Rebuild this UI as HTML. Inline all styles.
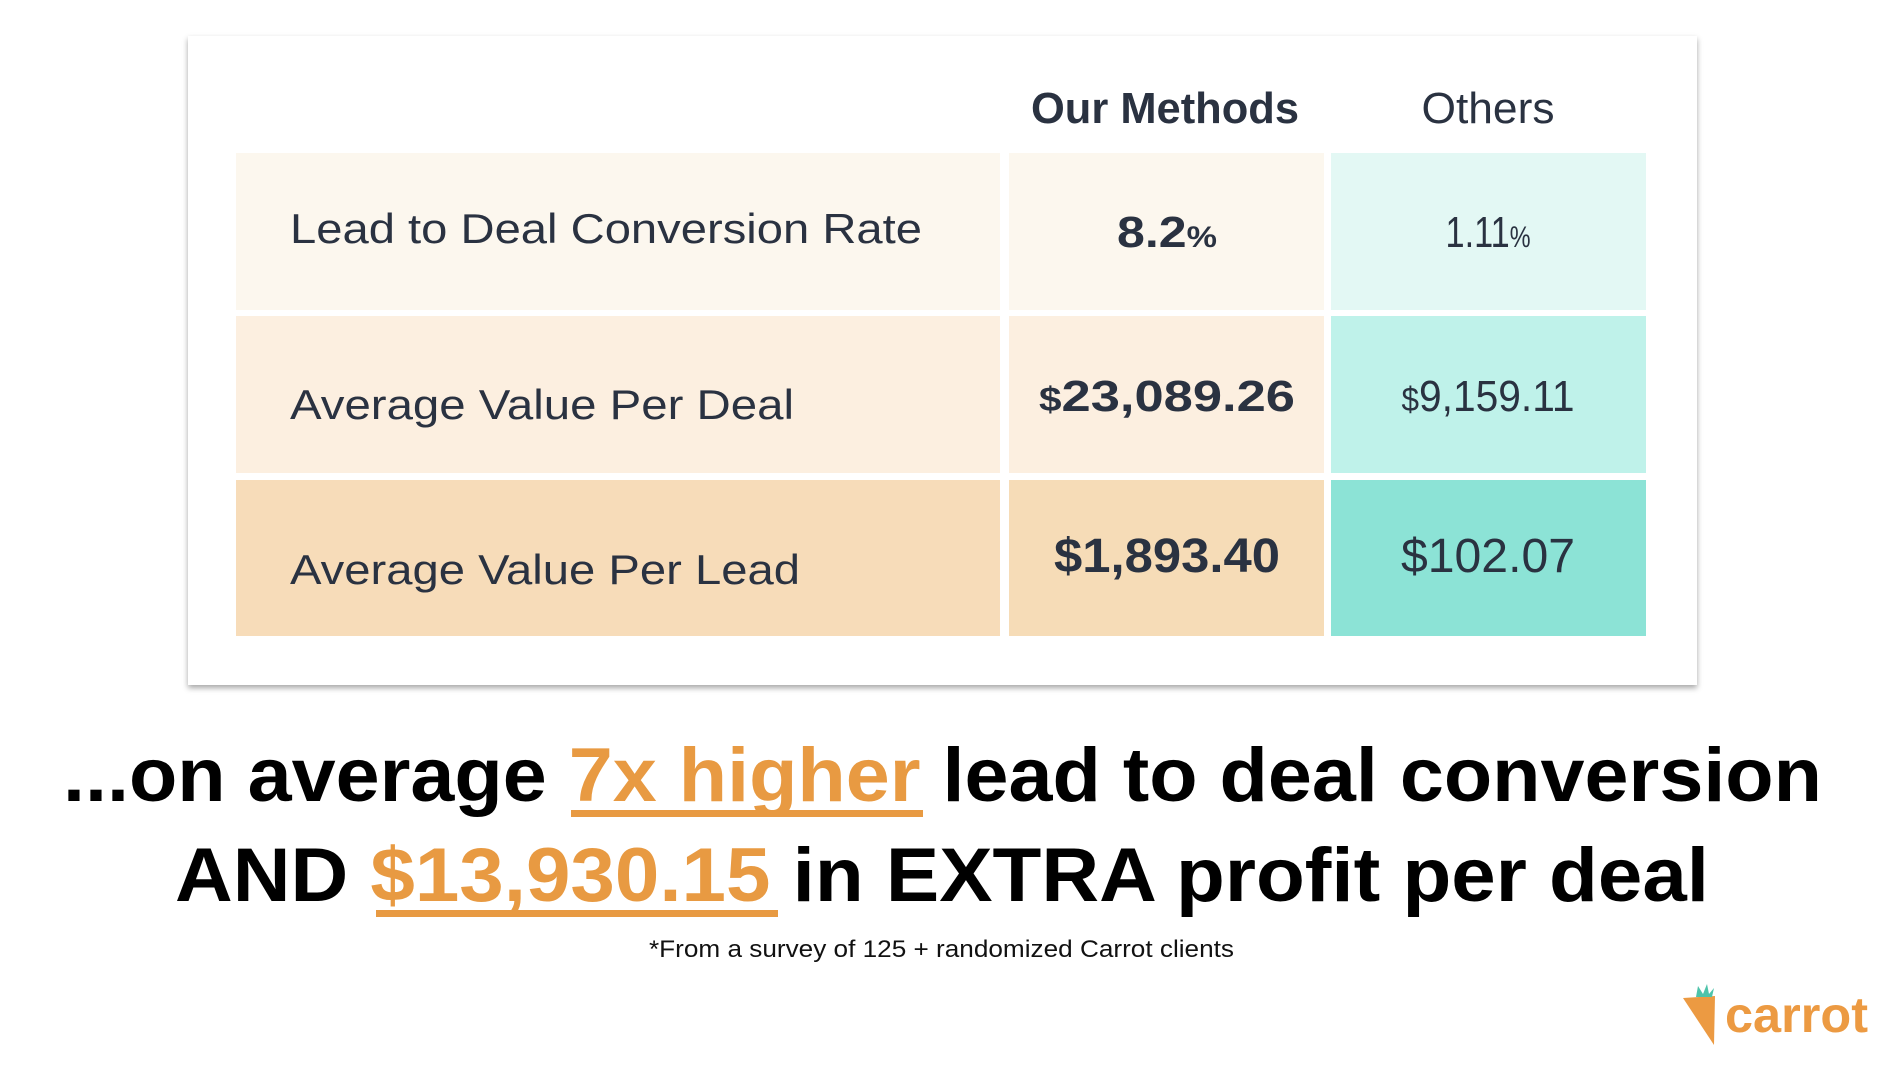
<!DOCTYPE html>
<html><head><style>
html,body{margin:0;padding:0;background:#fff;}
svg{display:block;}
text{font-family:"Liberation Sans",sans-serif;}
</style></head><body>
<svg width="1892" height="1082" viewBox="0 0 1892 1082" xmlns="http://www.w3.org/2000/svg">
<defs>
<filter id="sh" x="-5%" y="-5%" width="110%" height="115%"><feDropShadow dx="0" dy="3" stdDeviation="3" flood-color="#000" flood-opacity="0.35"/></filter>
</defs>
<rect x="188" y="36" width="1509" height="649" fill="#fff" filter="url(#sh)"/>
<text x="1165" y="123" text-anchor="middle" font-size="44" font-weight="bold" fill="#2a3241" textLength="268" lengthAdjust="spacingAndGlyphs">Our Methods</text>
<text x="1488" y="123" text-anchor="middle" font-size="44" fill="#2a3241" textLength="133" lengthAdjust="spacingAndGlyphs">Others</text>
<rect x="236" y="153" width="764" height="157" fill="#fcf7ee"/>
<rect x="1009" y="153" width="315" height="157" fill="#fcf7ee"/>
<rect x="1331" y="153" width="315" height="157" fill="#e3f8f4"/>
<rect x="236" y="316" width="764" height="157" fill="#fcefe0"/>
<rect x="1009" y="316" width="315" height="157" fill="#fcefe0"/>
<rect x="1331" y="316" width="315" height="157" fill="#bff2ea"/>
<rect x="236" y="480" width="764" height="156" fill="#f7dcb9"/>
<rect x="1009" y="480" width="315" height="156" fill="#f6dcb7"/>
<rect x="1331" y="480" width="315" height="156" fill="#8ce3d6"/>
<g fill="#2a3241">
<text x="290" y="243" font-size="42" textLength="632" lengthAdjust="spacingAndGlyphs">Lead to Deal Conversion Rate</text>
<text x="290" y="419" font-size="42" textLength="504" lengthAdjust="spacingAndGlyphs">Average Value Per Deal</text>
<text x="290" y="584" font-size="42" textLength="510" lengthAdjust="spacingAndGlyphs">Average Value Per Lead</text>
<text x="1167" y="247" text-anchor="middle" font-size="44" font-weight="bold" textLength="100" lengthAdjust="spacingAndGlyphs">8.2<tspan font-size="30">%</tspan></text>
<text x="1488" y="247" text-anchor="middle" font-size="44" textLength="85" lengthAdjust="spacingAndGlyphs">1.11<tspan font-size="30">%</tspan></text>
<text x="1167" y="411" text-anchor="middle" font-size="44" font-weight="bold" textLength="256" lengthAdjust="spacingAndGlyphs"><tspan font-size="34">$</tspan>23,089.26</text>
<text x="1488" y="411" text-anchor="middle" font-size="44" textLength="173" lengthAdjust="spacingAndGlyphs"><tspan font-size="34">$</tspan>9,159.11</text>
<text x="1167" y="572" text-anchor="middle" font-size="48" font-weight="bold" textLength="226" lengthAdjust="spacingAndGlyphs">$1,893.40</text>
<text x="1488" y="572" text-anchor="middle" font-size="48" textLength="174" lengthAdjust="spacingAndGlyphs">$102.07</text>
</g>
<g font-weight="bold" font-size="76">
<text x="63" y="801" fill="#000" textLength="1759" lengthAdjust="spacingAndGlyphs">...on average <tspan fill="#e89a42">7x higher</tspan> lead to deal conversion</text>
<text x="175" y="901" fill="#000" textLength="1534" lengthAdjust="spacingAndGlyphs">AND <tspan fill="#e89a42">$13,930.15</tspan> in EXTRA profit per deal</text>
</g>
<rect x="571" y="810" width="352" height="7" fill="#e89a42"/>
<rect x="376" y="910" width="402" height="7" fill="#e89a42"/>
<text x="649" y="957" font-size="24" fill="#111" textLength="585" lengthAdjust="spacingAndGlyphs">*From a survey of 125 + randomized Carrot clients</text>
<path d="M1683 998 L1715 996 L1714 1045 Z" fill="#ec9a42"/>
<path d="M1696 997 L1698 986 L1703 994 L1707 984 L1709 994 L1714 988 L1712 997 Z" fill="#4ec3aa"/>
<text x="1725" y="1032" font-size="50" font-weight="bold" fill="#ec9a42" textLength="143" lengthAdjust="spacingAndGlyphs">carrot</text>
</svg>
</body></html>
